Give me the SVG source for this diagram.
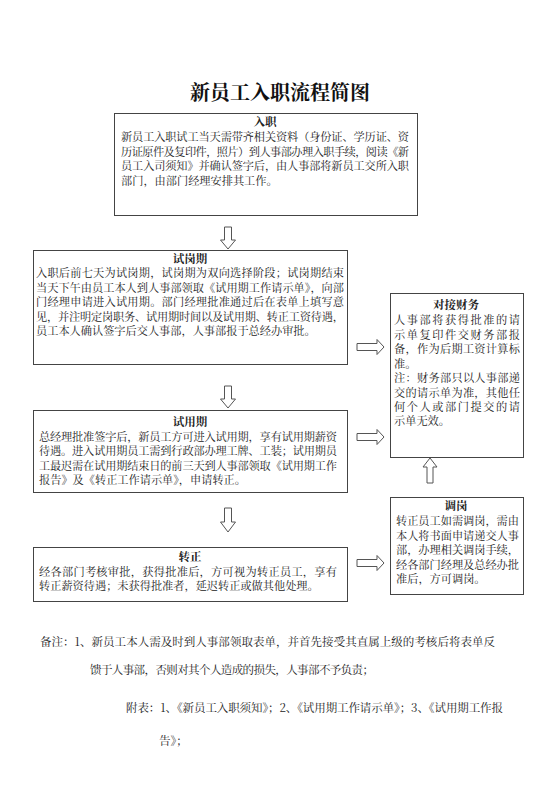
<svg xmlns="http://www.w3.org/2000/svg" width="560" height="792" viewBox="0 0 560 792">
<style>
text{font-family:"Noto Serif CJK SC","Liberation Serif","Noto Sans CJK SC",serif;fill:#222;font-size:11.2px}
.box{fill:#fff;stroke:#444;stroke-width:1}
.h{font-weight:bold;text-anchor:middle;font-size:11.5px}
.title{font-size:20px;font-weight:bold;text-anchor:middle;fill:#111}
.arr{fill:#fff;stroke:#555;stroke-width:1}
.note{font-size:11.5px}
</style>
<rect width="560" height="792" fill="#fff"/>
<text class="title" x="280" y="100">新员工入职流程简图</text>
<g id="connectors">
<path class="arr" d="M224.5 227H231.5V240H235.5L228 249L220.5 240H224.5Z"/>
<path class="arr" d="M224.5 386H231.5V399H235.5L228 408L220.5 399H224.5Z"/>
<path class="arr" d="M224.5 508H231.5V522H235.5L228 532L220.5 522H224.5Z"/>
<path class="arr" d="M357 343.5H377V339.5L384 347L377 354.5V350.5H357Z"/>
<path class="arr" d="M357 433.5H377V429.5L384 437L377 444.5V440.5H357Z"/>
<path class="arr" d="M357 559.5H377V555.5L384 563L377 570.5V566.5H357Z"/>
<path class="arr" d="M427 483V467H423L430 458L437 467H433V483Z"/>
</g>
<g id="node-ruzhi">
<rect class="box" x="114.5" y="113.5" width="303" height="102"/>
<text class="h" x="265" y="126">入职</text>
<text x="121" y="141" textLength="288" lengthAdjust="spacing">新员工入职试工当天需带齐相关资料（身份证、学历证、资</text>
<text x="121" y="156" textLength="288" lengthAdjust="spacing">历证原件及复印件，照片）到人事部办理入职手续，阅读《新</text>
<text x="121" y="170" textLength="288" lengthAdjust="spacing">员工入司须知》并确认签字后，由人事部将新员工交所入职</text>
<text x="121" y="185">部门，由部门经理安排其工作。</text>
</g>
<g id="node-shigang">
<rect class="box" x="33.5" y="250.5" width="314" height="114"/>
<text class="h" x="190" y="263">试岗期</text>
<text x="36" y="277" textLength="308" lengthAdjust="spacing">入职后前七天为试岗期，试岗期为双向选择阶段；试岗期结束</text>
<text x="36" y="292" textLength="308" lengthAdjust="spacing">当天下午由员工本人到人事部领取《试用期工作请示单》，向部</text>
<text x="36" y="306" textLength="308" lengthAdjust="spacing">门经理申请进入试用期。部门经理批准通过后在表单上填写意</text>
<text x="36" y="321" textLength="308" lengthAdjust="spacing">见，并注明定岗职务、试用期时间以及试用期、转正工资待遇，</text>
<text x="36" y="335">员工本人确认签字后交人事部，人事部报于总经办审批。</text>
</g>
<g id="node-caiwu">
<rect class="box" x="390.5" y="293.5" width="133" height="164"/>
<text class="h" x="456" y="309">对接财务</text>
<text x="394" y="324" textLength="126" lengthAdjust="spacing">人事部将获得批准的请</text>
<text x="394" y="339" textLength="126" lengthAdjust="spacing">示单复印件交财务部报</text>
<text x="394" y="353" textLength="126" lengthAdjust="spacing">备，作为后期工资计算标</text>
<text x="394" y="368">准。</text>
<text x="394" y="382" textLength="126" lengthAdjust="spacing">注：财务部只以人事部递</text>
<text x="394" y="397" textLength="126" lengthAdjust="spacing">交的请示单为准，其他任</text>
<text x="394" y="411" textLength="126" lengthAdjust="spacing">何个人或部门提交的请</text>
<text x="394" y="425">示单无效。</text>
</g>
<g id="node-shiyong">
<rect class="box" x="33.5" y="410.5" width="314" height="82"/>
<text class="h" x="190" y="426">试用期</text>
<text x="39" y="441" textLength="298" lengthAdjust="spacing">总经理批准签字后，新员工方可进入试用期，享有试用期薪资</text>
<text x="39" y="455" textLength="298" lengthAdjust="spacing">待遇。进入试用期员工需到行政部办理工牌、工装；试用期员</text>
<text x="39" y="470" textLength="298" lengthAdjust="spacing">工最迟需在试用期结束日的前三天到人事部领取《试用期工作</text>
<text x="39" y="484">报告》及《转正工作请示单》，申请转正。</text>
</g>
<g id="node-tiaogang">
<rect class="box" x="390.5" y="497.5" width="133" height="97"/>
<text class="h" x="456" y="510">调岗</text>
<text x="396" y="525" textLength="123" lengthAdjust="spacing">转正员工如需调岗，需由</text>
<text x="396" y="540" textLength="123" lengthAdjust="spacing">本人将书面申请递交人事</text>
<text x="396" y="554" textLength="123" lengthAdjust="spacing">部，办理相关调岗手续，</text>
<text x="396" y="569" textLength="123" lengthAdjust="spacing">经各部门经理及总经办批</text>
<text x="396" y="583">准后，方可调岗。</text>
</g>
<g id="node-zhuanzheng">
<rect class="box" x="33.5" y="547.5" width="314" height="54"/>
<text class="h" x="190" y="561">转正</text>
<text x="39" y="576" textLength="298" lengthAdjust="spacing">经各部门考核审批，获得批准后，方可视为转正员工，享有</text>
<text x="39" y="590">转正薪资待遇；未获得批准者，延迟转正或做其他处理。</text>
</g>
<g id="notes">
<text class="note" x="40" y="646" textLength="455" lengthAdjust="spacing">备注：1、新员工本人需及时到人事部领取表单，并首先接受其直属上级的考核后将表单反</text>
<text class="note" x="90" y="674" textLength="284" lengthAdjust="spacing">馈于人事部，否则对其个人造成的损失，人事部不予负责；</text>
<text class="note" x="126" y="712" textLength="377" lengthAdjust="spacing">附表：1、《新员工入职须知》；2、《试用期工作请示单》；3、《试用期工作报</text>
<text class="note" x="159" y="745">告》；</text>
</g>
</svg>
